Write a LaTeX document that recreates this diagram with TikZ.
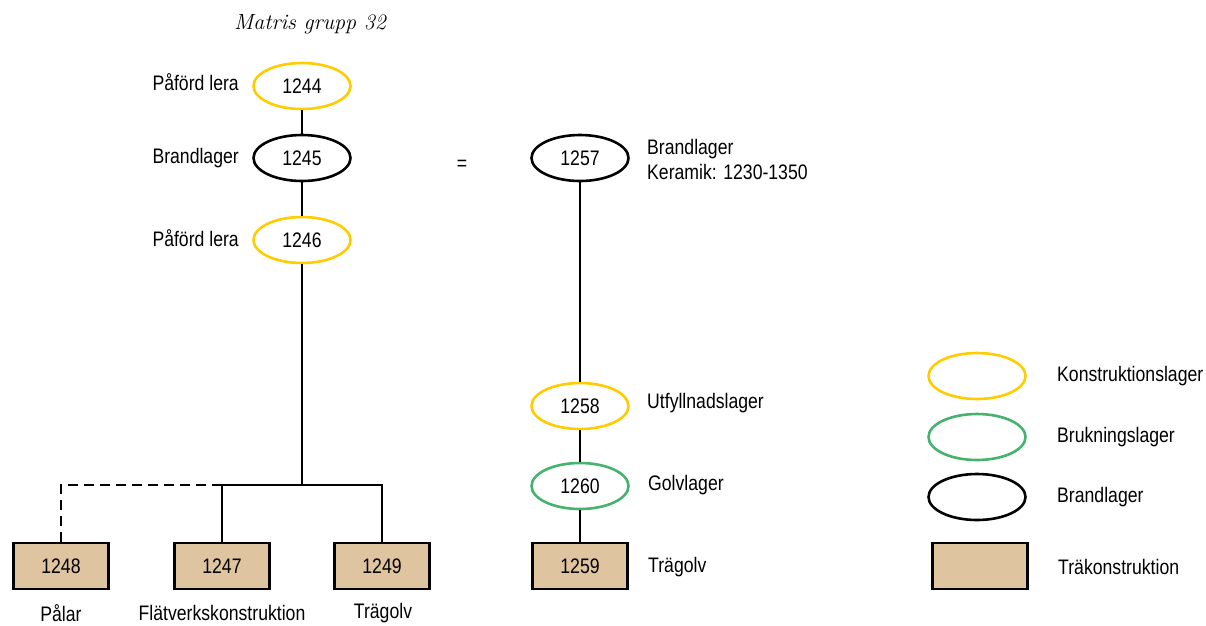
\documentclass[tikz,border=0pt]{standalone}
\usepackage{fontspec}
\setsansfont[FakeStretch=0.84]{Liberation Sans}
\usetikzlibrary{shapes.geometric}
\definecolor{kyellow}{HTML}{FFCC00}
\definecolor{bgreen}{HTML}{45B36E}
\definecolor{tan}{HTML}{DEC49F}
\begin{document}
\begin{tikzpicture}[x=1pt,y=-1pt,
  every node/.style={font=\sffamily\fontsize{21}{25}\selectfont},
  lay/.style={ellipse,draw,line width=2.6pt,minimum width=97pt,minimum height=46pt,inner sep=0pt},
  klay/.style={lay,draw=kyellow},
  blay/.style={lay,draw=bgreen},
  flay/.style={lay,draw=black},
  wood/.style={rectangle,draw=black,fill=tan,line width=2.6pt,minimum width=95pt,minimum height=46pt,inner sep=0pt},
  conn/.style={line width=2.4pt},
  lbl/.style={inner sep=0pt}
]
\useasboundingbox (0,0) rectangle (1206,625);
\node[font=\rmfamily\itshape\fontsize{22}{26}\selectfont] (title) at (310,24) {Matris grupp 32};

\node[klay] (n1244) at (302,86) {1244};
\node[flay] (n1245) at (302,158) {1245};
\node[klay] (n1246) at (302,240) {1246};
\node[lbl,anchor=east] (l1244) at (239,82) {Påförd lera};
\node[lbl,anchor=east] (l1245) at (239,158) {Brandlager};
\node[lbl,anchor=east] (l1246) at (239,238) {Påförd lera};

\node[wood] (n1248) at (61,566) {1248};
\node[wood] (n1247) at (222,566) {1247};
\node[wood] (n1249) at (382,566) {1249};
\node[lbl] (l1248) at (61,613) {Pålar};
\node[lbl] (l1247) at (222,613) {Flätverkskonstruktion};
\node[lbl] (l1249) at (383,613) {Trägolv};

\coordinate (j) at (302,485);

\draw[conn] (n1244) -- (n1245);
\draw[conn] (n1245) -- (n1246);
\draw[conn] (n1246) -- (j);
\draw[conn] (n1247) |- (j);
\draw[conn] (n1249) |- (j);
\draw[conn,dashed,dash pattern=on 10pt off 6pt] (n1248) |- (j-|n1247);

\node[lbl] (eq) at (462,165) {=};

\node[flay] (n1257) at (580,158) {1257};
\node[klay] (n1258) at (580,406) {1258};
\node[blay] (n1260) at (580,486) {1260};
\node[wood] (n1259) at (580,566) {1259};
\node[lbl,anchor=west,align=left] (l1257) at (647,159) {Brandlager\\Keramik: 1230-1350};
\node[lbl,anchor=west] (l1258) at (647,403) {Utfyllnadslager};
\node[lbl,anchor=west] (l1260) at (648,485) {Golvlager};
\node[lbl,anchor=west] (l1259) at (648,567) {Trägolv};

\draw[conn] (n1257) -- (n1258);
\draw[conn] (n1258) -- (n1260);
\draw[conn] (n1260) -- (n1259);

\node[klay] (k1) at (977,376) {};
\node[blay] (k2) at (977,437) {};
\node[flay] (k3) at (977,497) {};
\node[wood] (k4) at (980,566) {};
\node[lbl,anchor=west] (lk1) at (1057,376) {Konstruktionslager};
\node[lbl,anchor=west] (lk2) at (1057,437) {Brukningslager};
\node[lbl,anchor=west] (lk3) at (1057,497) {Brandlager};
\node[lbl,anchor=west] (lk4) at (1058,567) {Träkonstruktion};
\end{tikzpicture}
\end{document}
